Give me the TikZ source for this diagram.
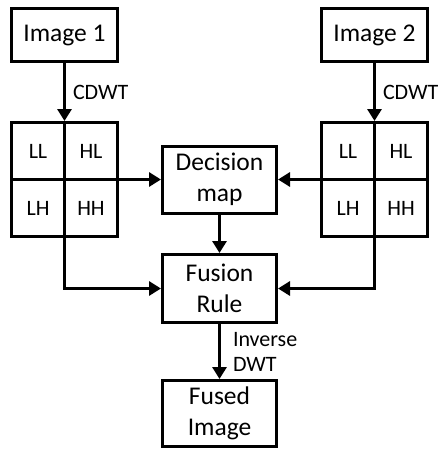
\documentclass[tikz,border=0pt]{standalone}
\usepackage{fontspec}
\setmainfont{Carlito}
\usetikzlibrary{arrows.meta}
\begin{document}
\begin{tikzpicture}[x=1pt,y=-1pt,line width=3pt,>={Triangle[length=12pt,width=14pt]},
        main node/.style={rectangle,draw,align=center,inner sep=0pt,font=\fontsize{25.5}{31}\selectfont},
        cell node/.style={rectangle,draw,minimum width=53pt,minimum height=57pt,inner sep=0pt,outer sep=0pt,font=\fontsize{22}{24}\selectfont},
        label text/.style={font=\fontsize{22}{25}\selectfont,align=left,inner sep=0pt}]
        \useasboundingbox (0,0) rectangle (439,450);
        \node[main node,minimum width=106pt,minimum height=53pt] at (64.5,35) (img1) {Image 1};
        \node[main node,minimum width=106pt,minimum height=53pt] at (374.5,35) (img2) {Image 2};

        % subbands of image 1
        \node[cell node] at (38,151) (ll1) {LL};
        \node[cell node] at (91,151) (hl1) {HL};
        \node[cell node] at (38,208) (lh1) {LH};
        \node[cell node] at (91,208) (hh1) {HH};
        % subbands of image 2
        \node[cell node] at (348,151) (ll2) {LL};
        \node[cell node] at (401,151) (hl2) {HL};
        \node[cell node] at (348,208) (lh2) {LH};
        \node[cell node] at (401,208) (hh2) {HH};

        \node[main node,minimum width=114pt,minimum height=67pt] at (219.5,179.5) (dmap) {Decision\\map};
        \node[main node,minimum width=114pt,minimum height=68pt] at (219.5,288.5) (rule) {Fusion\\Rule};
        \node[main node,minimum width=114pt,minimum height=66pt] at (219.5,413.5) (fused) {Fused\\Image};

        \path[->,every node/.style={label text}]
            (img1) edge[shorten >=1.5pt] node[right,xshift=7pt] {CDWT} (ll1.north east)
            (img2) edge[shorten >=1.5pt] node[right,xshift=7pt] {CDWT} (ll2.north east)
            (hl1.south east) edge (dmap.west)
            (hl2.south west) edge (dmap.east)
            (dmap) edge (rule)
            (rule) edge node[right,xshift=12pt] {Inverse\\DWT} (fused)
            ;
        \draw[->] (lh1.south east) |- (rule.west);
        \draw[->] (lh2.south east) |- (rule.east);
        \end{tikzpicture}
\end{document}
